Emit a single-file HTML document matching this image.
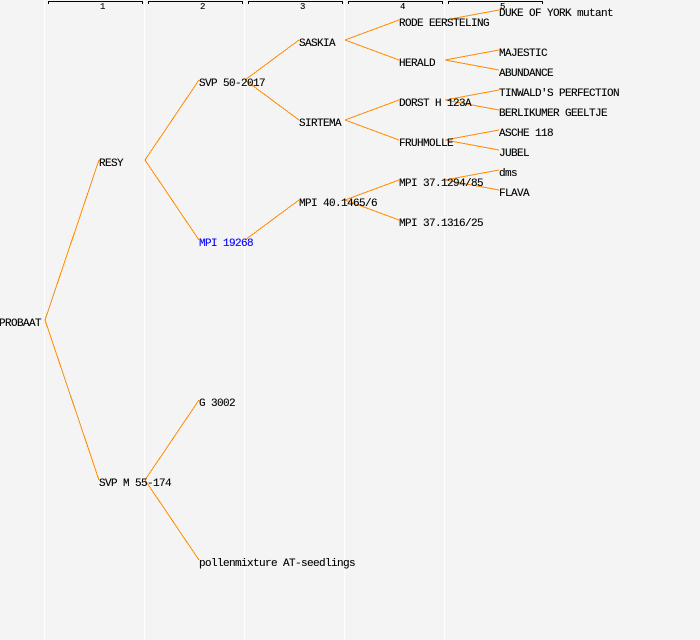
<!DOCTYPE html>
<html>
<head>
<meta charset="utf-8">
<style>
html,body{margin:0;padding:0;background:#f4f4f4;}
svg{display:block;}
text{font-family:"Liberation Mono",monospace;font-size:11px;letter-spacing:-0.6px;fill:#000;stroke:#000;stroke-width:0.12px;}
text.n{font-size:9px;letter-spacing:0;stroke-width:0.1px;}
.g line{stroke:#ff8c00;stroke-width:1;}
.w rect{fill:#fff;}
.b path{stroke:#000;fill:none;stroke-width:1;}
</style>
</head>
<body>
<svg width="700" height="640" viewBox="0 0 700 640" xmlns="http://www.w3.org/2000/svg">
<rect width="700" height="640" fill="#f4f4f4"/>
<g class="w">
<rect x="44" y="0" width="1" height="640"/>
<rect x="144" y="0" width="1" height="640"/>
<rect x="244" y="0" width="1" height="640"/>
<rect x="344" y="0" width="1" height="640"/>
<rect x="444" y="0" width="1" height="640"/>
</g>
<g class="b" shape-rendering="crispEdges">
<path d="M48.5 4V1.5H142.5V4"/>
<path d="M148.5 4V1.5H242.5V4"/>
<path d="M248.5 4V1.5H342.5V4"/>
<path d="M348.5 4V1.5H442.5V4"/>
<path d="M448.5 4V1.5H542.5V4"/>
</g>
<g>
<text class="n" x="100" y="9">1</text>
<text class="n" x="200" y="9">2</text>
<text class="n" x="300" y="9">3</text>
<text class="n" x="400" y="9">4</text>
<text class="n" x="500" y="9">5</text>
</g>
<g class="g" shape-rendering="crispEdges">
<line x1="45" y1="320" x2="99" y2="160"/>
<line x1="45" y1="320" x2="99" y2="480"/>
<line x1="145" y1="160" x2="199" y2="80"/>
<line x1="145" y1="160" x2="199" y2="240"/>
<line x1="145" y1="480" x2="199" y2="400"/>
<line x1="145" y1="480" x2="199" y2="560"/>
<line x1="245" y1="80" x2="299" y2="40"/>
<line x1="245" y1="80" x2="299" y2="120"/>
<line x1="245" y1="240" x2="299" y2="200"/>
<line x1="345" y1="40" x2="399" y2="20"/>
<line x1="345" y1="40" x2="399" y2="60"/>
<line x1="345" y1="120" x2="399" y2="100"/>
<line x1="345" y1="120" x2="399" y2="140"/>
<line x1="345" y1="200" x2="399" y2="180"/>
<line x1="345" y1="200" x2="399" y2="220"/>
<line x1="445" y1="20" x2="499" y2="10"/>
<line x1="445" y1="60" x2="499" y2="50"/>
<line x1="445" y1="60" x2="499" y2="70"/>
<line x1="445" y1="100" x2="499" y2="90"/>
<line x1="445" y1="100" x2="499" y2="110"/>
<line x1="445" y1="140" x2="499" y2="130"/>
<line x1="445" y1="140" x2="499" y2="150"/>
<line x1="445" y1="180" x2="499" y2="170"/>
<line x1="445" y1="180" x2="499" y2="190"/>
</g>
<text x="-1" y="326">PROBAAT</text>
<text x="99" y="166">RESY</text>
<text x="99" y="486">SVP M 55-174</text>
<text x="199" y="86">SVP 50-2017</text>
<text x="199" y="246" style="fill:#0000ff;stroke:#0000ff">MPI 19268</text>
<text x="199" y="406">G 3002</text>
<text x="199" y="566">pollenmixture AT-seedlings</text>
<text x="299" y="46">SASKIA</text>
<text x="299" y="126">SIRTEMA</text>
<text x="299" y="206">MPI 40.1465/6</text>
<text x="399" y="26">RODE EERSTELING</text>
<text x="399" y="66">HERALD</text>
<text x="399" y="106">DORST H 123A</text>
<text x="399" y="146">FRUHMOLLE</text>
<text x="399" y="186">MPI 37.1294/85</text>
<text x="399" y="226">MPI 37.1316/25</text>
<text x="499" y="16">DUKE OF YORK mutant</text>
<text x="499" y="56">MAJESTIC</text>
<text x="499" y="76">ABUNDANCE</text>
<text x="499" y="96">TINWALD'S PERFECTION</text>
<text x="499" y="116">BERLIKUMER GEELTJE</text>
<text x="499" y="136">ASCHE 118</text>
<text x="499" y="156">JUBEL</text>
<text x="499" y="176">dms</text>
<text x="499" y="196">FLAVA</text>
</svg>
</body>
</html>
